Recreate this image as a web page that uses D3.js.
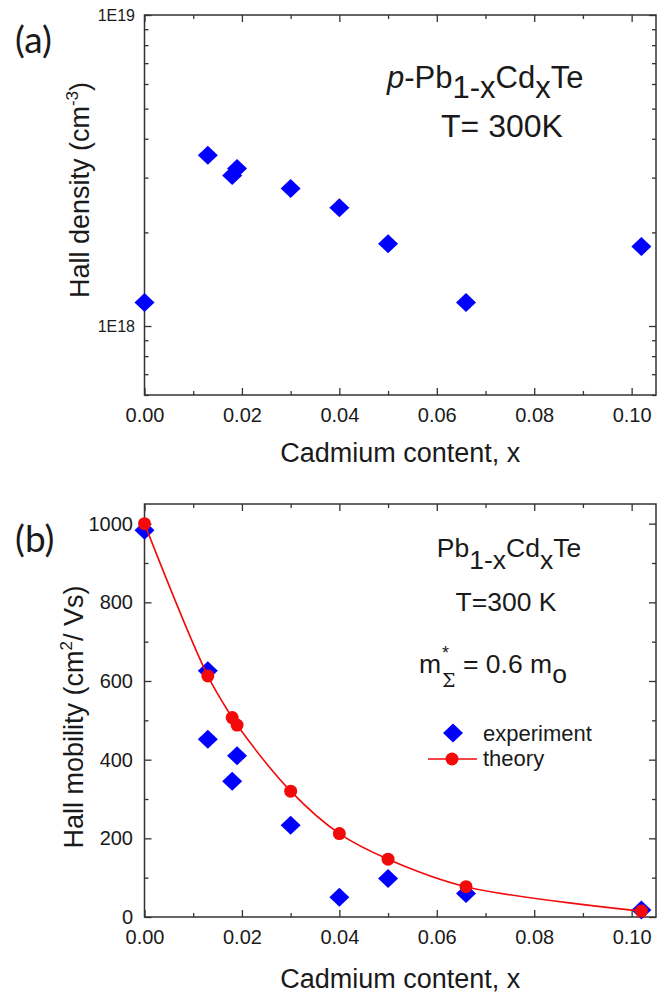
<!DOCTYPE html>
<html>
<head>
<meta charset="utf-8">
<title>Pb1-xCdxTe Hall data</title>
<script src="https://d3js.org/d3.v7.min.js"></script>
<style>
    body { margin: 0; background: #fff; }
    text { font-family: "Liberation Sans", Arial, sans-serif; fill: #1a1a1a; }
    .frame { fill: none; stroke: #333; stroke-width: 1.5px; }
    .tick line { stroke: #333; stroke-width: 1.3px; }
    .panel-tag { font-family: Lato, "Open Sans", sans-serif; font-size: 37px; }
</style>
</head>
<body>
<svg id="chart" width="669" height="995"></svg>
<script>
    // cadmium content of the samples
    const cdX = [0, 0.013, 0.018, 0.019, 0.030, 0.040, 0.050, 0.066, 0.102];
    // (a) hole density, cm^-3
    const hallDensity = [1.19e18, 3.54e18, 3.05e18, 3.21e18, 2.77e18, 2.40e18, 1.84e18, 1.19e18, 1.80e18];

    // (b) mobility, experiment
    const expX = [0, 0.013, 0.013, 0.018, 0.019, 0.030, 0.040, 0.050, 0.066, 0.102];
    const expMobility = [983, 626, 452, 345, 410, 233, 50, 98, 60, 18];
    // (b) mobility, theory
    const theoryX = [0, 0.013, 0.018, 0.019, 0.030, 0.040, 0.050, 0.066, 0.102];
    const theoryMobility = [1000, 613, 507, 488, 320, 212, 147, 77, 15];

    const xTicks = [0, 0.02, 0.04, 0.06, 0.08, 0.10];
    const xMinorTicks = [0.01, 0.03, 0.05, 0.07, 0.09];
    const densityTicks = [1e18, 1e19];
    const densityTickLabels = ["1E18", "1E19"];
    const densityMinorTicks = [6e17, 7e17, 8e17, 9e17, 2e18, 3e18, 4e18, 5e18, 6e18, 7e18, 8e18, 9e18];
    const mobilityTicks = [0, 200, 400, 600, 800, 1000];
    const mobilityMinorTicks = [100, 300, 500, 700, 900];

    const svg = d3.select("#chart");
    const left = 144.5, right = 656;

    const x = d3.scaleLinear().domain([0, 0.105]).range([left, right]);
    const yA = d3.scaleLog().domain([6e17, 1e19]).range([395, 15]);
    const yB = d3.scaleLinear().domain([0, 1050]).range([917, 504]);

    const diamond = "M0,-9.5L10,0L0,9.5L-10,0Z";
    const blue = "#0000ff";
    const red = "#f20a0a";

    function frame(y) {
        const [b, t] = y.range();
        const g = svg.append("g");

        // x ticks, inward, bottom with labels and top without
        g.append("g").attr("transform", `translate(0,${b})`)
            .call(d3.axisBottom(x).tickValues(xTicks).tickSize(-7).tickSizeOuter(0)
                .tickPadding(13).tickFormat(d3.format(".2f")))
            .call(a => a.selectAll("text").attr("font-size", 20).attr("font-family", null));
        g.append("g").attr("transform", `translate(0,${b})`)
            .call(d3.axisBottom(x).tickValues(xMinorTicks).tickSize(-4).tickSizeOuter(0).tickFormat(""));
        g.append("g").attr("transform", `translate(0,${t})`)
            .call(d3.axisTop(x).tickValues(xTicks).tickSize(-7).tickSizeOuter(0).tickFormat(""));
        g.append("g").attr("transform", `translate(0,${t})`)
            .call(d3.axisTop(x).tickValues(xMinorTicks).tickSize(-4).tickSizeOuter(0).tickFormat(""));

        g.selectAll(".domain").remove();
        g.append("rect").attr("class", "frame")
            .attr("x", left).attr("y", t).attr("width", right - left).attr("height", b - t);
        return g;
    }

    function yTicks(g, y, major, minor, fmt, fontSize, pad) {
        g.append("g").attr("transform", `translate(${left},0)`)
            .call(d3.axisLeft(y).tickValues(major).tickSize(-7).tickSizeOuter(0).tickPadding(pad).tickFormat(fmt))
            .call(a => a.selectAll("text").attr("font-size", fontSize).attr("font-family", null));
        g.append("g").attr("transform", `translate(${left},0)`)
            .call(d3.axisLeft(y).tickValues(minor).tickSize(-4).tickSizeOuter(0).tickFormat(""));
        g.append("g").attr("transform", `translate(${right},0)`)
            .call(d3.axisRight(y).tickValues(major).tickSize(-7).tickSizeOuter(0).tickFormat(""));
        g.append("g").attr("transform", `translate(${right},0)`)
            .call(d3.axisRight(y).tickValues(minor).tickSize(-4).tickSizeOuter(0).tickFormat(""));
        g.selectAll(".domain").remove();
    }

    // ---------- panel (a) ----------
    const gA = frame(yA);
    yTicks(gA, yA, densityTicks, densityMinorTicks,
        d => densityTickLabels[densityTicks.indexOf(d)], 16, 9.5);

    gA.append("g").selectAll("path")
        .data(cdX.map((v, i) => [v, hallDensity[i]]))
        .join("path")
        .attr("d", diamond)
        .attr("fill", blue)
        .attr("transform", d => `translate(${x(d[0])},${yA(d[1])})`);

    svg.append("text").attr("class", "panel-tag").attr("x", 15).attr("y", 53).text("(a)");

    const yTitleA = svg.append("text")
        .attr("transform", "translate(89,190) rotate(-90)")
        .attr("text-anchor", "middle").attr("font-size", 27);
    yTitleA.append("tspan").text("Hall density (cm");
    yTitleA.append("tspan").attr("font-size", 17).attr("dy", -11).text("-3");
    yTitleA.append("tspan").attr("dy", 11).text(")");

    svg.append("text").attr("x", x(0.0525)).attr("y", 462)
        .attr("text-anchor", "middle").attr("font-size", 27).text("Cadmium content, x");

    const noteA = svg.append("text").attr("x", 387).attr("y", 88).attr("font-size", 31);
    noteA.append("tspan").attr("font-style", "italic").text("p");
    noteA.append("tspan").text("-Pb");
    noteA.append("tspan").attr("dy", 10).text("1-x");
    noteA.append("tspan").attr("dy", -10).text("Cd");
    noteA.append("tspan").attr("dy", 10).text("x");
    noteA.append("tspan").attr("dy", -10).text("Te");
    svg.append("text").attr("x", 502).attr("y", 137).attr("text-anchor", "middle")
        .attr("font-size", 32).text("T= 300K");

    // ---------- panel (b) ----------
    const gB = frame(yB);
    yTicks(gB, yB, mobilityTicks, mobilityMinorTicks, d3.format("d"), 20, 11.5);

    gB.append("g").selectAll("path")
        .data(expX.map((v, i) => [v, expMobility[i]]))
        .join("path")
        .attr("d", diamond)
        .attr("fill", blue)
        .attr("transform", d => `translate(${x(d[0])},${yB(d[1])})`);

    const theory = theoryX.map((v, i) => [v, theoryMobility[i]]);
    const line = d3.line().x(d => x(d[0])).y(d => yB(d[1])).curve(d3.curveCatmullRom.alpha(0.5));
    gB.append("path").datum(theory)
        .attr("d", line).attr("fill", "none").attr("stroke", red).attr("stroke-width", 1.6);
    gB.append("g").selectAll("circle")
        .data(theory)
        .join("circle")
        .attr("cx", d => x(d[0])).attr("cy", d => yB(d[1]))
        .attr("r", 6.5).attr("fill", red);

    svg.append("text").attr("class", "panel-tag").attr("x", 15).attr("y", 552).text("(b)");

    const yTitleB = svg.append("text")
        .attr("transform", "translate(83,717) rotate(-90)")
        .attr("text-anchor", "middle").attr("font-size", 27);
    yTitleB.append("tspan").text("Hall mobility (cm");
    yTitleB.append("tspan").attr("font-size", 17).attr("dy", -11).text("2");
    yTitleB.append("tspan").attr("dy", 11).text("/ Vs)");

    svg.append("text").attr("x", x(0.0525)).attr("y", 988)
        .attr("text-anchor", "middle").attr("font-size", 27).text("Cadmium content, x");

    const noteB = svg.append("text").attr("x", 509).attr("y", 557)
        .attr("text-anchor", "middle").attr("font-size", 26.5);
    noteB.append("tspan").text("Pb");
    noteB.append("tspan").attr("dy", 12).text("1-x");
    noteB.append("tspan").attr("dy", -12).text("Cd");
    noteB.append("tspan").attr("dy", 12).text("x");
    noteB.append("tspan").attr("dy", -12).text("Te");
    svg.append("text").attr("x", 506).attr("y", 611).attr("text-anchor", "middle")
        .attr("font-size", 26.5).text("T=300 K");

    const mass = svg.append("text").attr("font-size", 26.5);
    mass.append("tspan").attr("x", 419).attr("y", 673).text("m");
    mass.append("tspan").attr("x", 442).attr("y", 659).attr("font-size", 18).text("*");
    mass.append("tspan").attr("x", 442).attr("y", 687).attr("font-size", 19)
        .attr("font-family", "'DejaVu Serif', serif").text("Σ");
    mass.append("tspan").attr("x", 463).attr("y", 673).text("= 0.6 m");
    mass.append("tspan").attr("dy", 10).text("o");

    // legend
    svg.append("path").attr("d", diamond).attr("fill", blue).attr("transform", "translate(453,733)");
    svg.append("text").attr("x", 483).attr("y", 741).attr("font-size", 22).text("experiment");
    svg.append("line").attr("x1", 428).attr("x2", 477).attr("y1", 759).attr("y2", 759)
        .attr("stroke", red).attr("stroke-width", 1.6);
    svg.append("circle").attr("cx", 452).attr("cy", 759).attr("r", 6.5).attr("fill", red);
    svg.append("text").attr("x", 483).attr("y", 766).attr("font-size", 22).text("theory");
</script>
</body>
</html>
